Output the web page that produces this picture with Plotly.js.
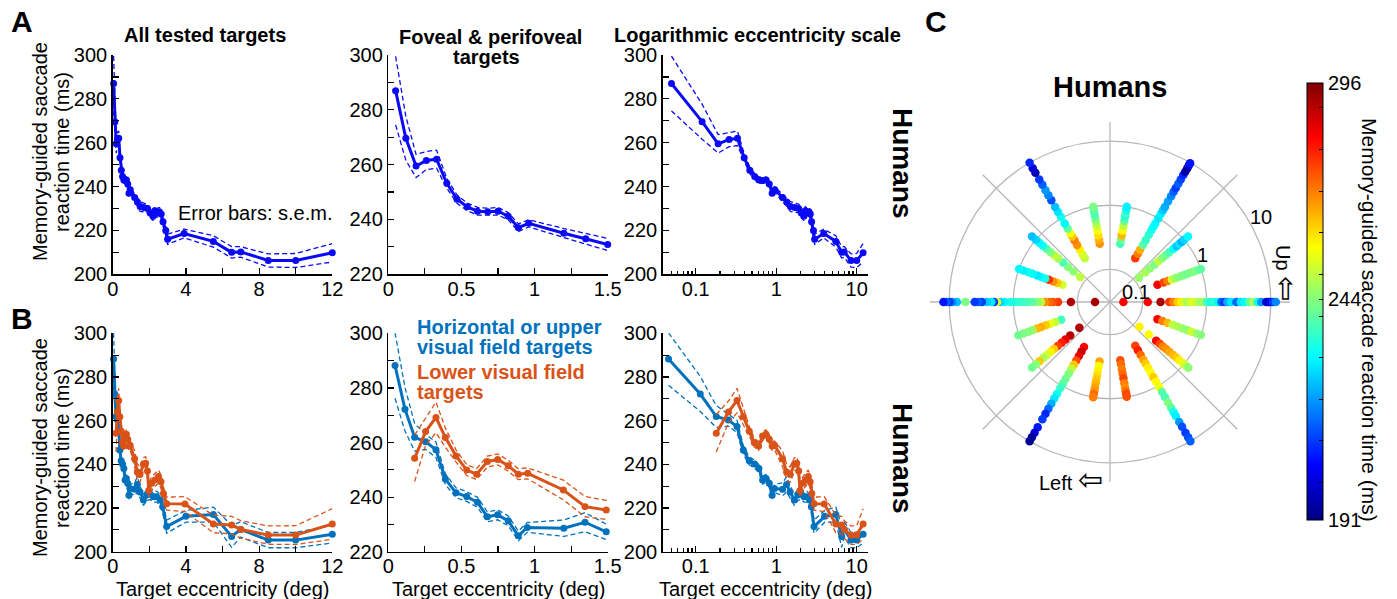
<!DOCTYPE html>
<html>
<head>
<meta charset="utf-8">
<script src="https://cdn.plot.ly/plotly-3.0.1.min.js"></script>
<style>html,body{margin:0;padding:0;background:#fff;}#chart{width:1397px;height:599px;}</style>
</head>
<body>
<div id="chart"></div>
<script>
// ---------- Panel A: all targets (mean RT, s.e.m.) ----------
const eccA = [0.05,0.12,0.19,0.26,0.33,0.4,0.47,0.54,0.61,0.68,0.75,0.82,0.89,0.96,1.2,1.35,1.5,1.7,1.9,2.05,2.2,2.3,2.4,2.55,2.65,2.75,2.9,3.0,3.9,5.5,6.5,7.0,8.5,10.0,12.0];
const rtA  = [287,269.6,259.5,261.5,262,253.2,247.4,244.6,243,242.8,243,241.2,237,238.6,235,233,230.9,230.5,230,228,226.5,229,228,228.5,227.5,224,220,216,218.6,215,210,210.2,206.3,206.3,209.8];
const semA = [12.5,8,4.2,3.3,3.3,1.8,1.5,1.4,1.4,1.3,1.4,1.3,1.4,1.3,1.7,2,2.2,2,2,2,2,2,2,2,2,2,2.2,2.3,2,2.6,2.6,2.4,3,3.2,4.2];

// ---------- Panel B: horizontal/upper vs lower visual field ----------
const eccUp = [0.046,0.114,0.18,0.255,0.326,0.39,0.463,0.536,0.61,0.677,0.748,0.82,0.889,0.95,1.2,1.345,1.49,1.68,1.86,2.04,2.22,2.4,2.6,2.73,2.95,4.0,5.5,6.5,7.0,8.5,10,12];
const rtUp  = [288.2,272.2,261.9,260.3,257.3,246.6,241.6,240.2,238.1,232.8,233.5,231.3,225.8,228.9,228.6,230.8,227.3,223.7,226,226.4,225.2,225.2,223.7,220.6,211.5,216.2,217,207,210.2,205.3,205.3,208];
const semUp = [12,8,5,2.8,2.8,2,1.8,1.8,1.8,1.8,1.8,1.8,1.8,1.8,3,3.5,2.8,2.5,2.5,2.5,2.5,2.5,2.5,2.8,3,2.7,3.4,5,3.5,3.5,3.5,4];

const eccLow = [0.18,0.255,0.326,0.39,0.463,0.536,0.604,0.677,0.748,0.82,0.889,0.953,1.197,1.345,1.49,1.68,1.8,1.9,1.97,2.13,2.31,2.5,2.64,2.77,2.95,3.95,5.5,6.5,7.0,8.5,10,12];
const rtLow  = [254.2,264,269.2,261.8,255.1,249.9,248.4,253,253.8,251.5,248.4,248.7,242.6,236.5,235.3,240,240.5,237,228,231.3,232.8,234.4,232,226.7,222,221.8,212.7,212.2,210.2,207.6,207.6,212.7];
const semLow = [8.5,5,5.6,3.5,2.2,2,2,2,2,2,2,2,3.6,3.7,3.5,3,3,3,3,3,3,3,3,3,3,3.4,4,4,4,4.2,4.3,7];

// ---------- Panel C: polar map (direction deg, eccentricity deg, RT ms) ----------
const rayAngles = [0,20,40,60,80,100,120,140,160,180,200,220,240,260,280,300,320,340];
const rayEcc = [
 [0.05,0.12,0.19,0.26,0.3,0.35,0.4,0.45,0.5,0.55,0.6,0.7,0.8,0.9,1.0,1.15,1.3,1.5,1.7,1.9,2.1,2.4,2.9,3.4,3.9,4.6,5.3,6.2,7.1,8.5,9.3,10,10.9,12],
 [0.19,0.24,0.28,0.33,0.38,0.45,0.52,0.6,0.7,0.8,0.9,1.0],
 [0.12,0.16,0.2,0.25,0.3,0.36,0.42,0.5,0.6,0.7,0.8,0.9,1.0,1.2],
 [0.19,0.23,0.27,0.33,0.4,0.5,0.6,0.7,0.8,1.0,1.2,1.4,1.6,2.0,2.5,3.0,3.5,4.2,5.0,6.0,6.9,8.0,9.0,9.8],
 [0.26,0.3,0.35,0.42,0.5,0.6,0.7,0.8,0.9,1.0],
 [0.26,0.3,0.35,0.42,0.5,0.6,0.7,0.8,0.9,1.0],
 [0.19,0.22,0.27,0.33,0.4,0.47,0.54,0.65,0.8,1.05,1.3,1.6,2.1,2.6,3.2,4.0,5.0,6.6,8.0,10],
 [0.125,0.17,0.22,0.28,0.35,0.42,0.5,0.6,0.72,0.85,1.0,1.2],
 [0.19,0.23,0.27,0.32,0.37,0.43,0.5,0.6,0.7,0.85,1.0],
 [0.053,0.126,0.2,0.24,0.27,0.32,0.37,0.42,0.5,0.6,0.7,0.8,0.94,1.1,1.36,1.6,1.8,2.0,2.2,2.6,3.1,3.5,4.0,5.6,7.6,9.0,9.9,11,12.3],
 [0.2,0.25,0.3,0.36,0.43,0.5,0.6,0.7,0.85,1.03],
 [0.13,0.2,0.25,0.3,0.36,0.43,0.5,0.6,0.7,0.85,1.0,1.2],
 [0.2,0.24,0.29,0.35,0.42,0.5,0.6,0.75,0.9,1.1,1.4,1.7,2.1,2.6,3.2,4.0,5.6,7.0,8.5,10],
 [0.27,0.32,0.38,0.45,0.52,0.6,0.7,0.8,0.9,1.0],
 [0.26,0.3,0.36,0.42,0.5,0.6,0.7,0.8,0.9,0.98],
 [0.19,0.23,0.28,0.34,0.4,0.48,0.58,0.7,0.85,1.05,1.3,1.6,2.0,2.5,3.0,3.5,4.5,5.5,7.0,8.5,10],
 [0.123,0.19,0.27,0.32,0.37,0.43,0.5,0.6,0.7,0.8,0.95,1.1,1.22],
 [0.19,0.23,0.28,0.34,0.41,0.5,0.6,0.7,0.85,1.0]
];
const rayRT = [
 [283,283,292,277,270,262,258,252,247,250,254,250,246,248,238,232,236,230,214,210,222,228,215,228,230,240,249,232,220,200,196,205,210,218],
 [283,276,270,252,246,244,243,242,243,244,242,240],
 [246,248,245,243,250,245,242,238,232,225,228,222,226,230],
 [277,270,265,240,236,235,233,231,230,228,229,225,222,221,218,214,210,214,211,208,196,194,200,206],
 [237,242,264,257,250,240,234,238,231,229],
 [268,265,260,256,250,245,240,238,240,243],
 [250,252,258,268,270,262,255,240,230,232,228,224,212,218,220,214,210,196,200,208],
 [250,245,244,238,248,250,244,240,232,230,226,224],
 [252,262,268,278,233,231,228,230,232,229,230],
 [292,291,277,275,272,268,250,245,240,238,237,236,235,233,230,226,255,210,228,225,210,214,210,243,224,218,210,214,206],
 [237,250,254,262,265,264,246,244,243,242],
 [291,290,285,280,276,262,258,252,248,262,245,242],
 [283,288,285,275,262,250,244,242,240,236,232,228,222,215,208,210,206,200,194,193],
 [266,256,258,260,262,264,266,268,272,270],
 [275,272,270,272,276,270,268,272,276,275],
 [276,280,272,266,262,258,256,262,257,255,240,238,244,240,232,229,220,212,210,212,214],
 [258,257,283,276,270,268,266,264,262,258,255,250,245],
 [283,270,264,250,248,246,245,252,246,244]
];
const ringVals = [0.1, 1, 10];
const ringText = ['0.1', '1', '10'];
const cbTickVals = [191,200,210,220,230,240,244,250,260,270,280,290,296];
const cbTickText = ['191','','','','','','244','','','','','','296'];

// ---------- helpers ----------
const W = 1397, H = 599;
const FONT = 'Liberation Sans, Arial, Helvetica, sans-serif';
const P = x => x / W;
const Q = y => 1 - y / H;
const BLUE_A = 'rgb(10,10,245)';
const BLUE_B = 'rgb(0,114,189)';
const ORANGE = 'rgb(217,83,25)';

const colPx = [[112.7,332.3],[388.3,607.7],[662.7,868]];
const rowPx = [[55,274.3],[333.3,551.7]];

const traces = [];
function addSeries(x, y, s, color, k) {
  const xa = 'x' + (k === 1 ? '' : k), ya = 'y' + (k === 1 ? '' : k);
  const up = y.map((v, i) => v + s[i]);
  const lo = y.map((v, i) => v - s[i]);
  [up, lo].forEach(b => traces.push({
    x: x, y: b, xaxis: xa, yaxis: ya, type: 'scatter', mode: 'lines',
    line: {color: color, width: 1.3, dash: '5px,3px'}, hoverinfo: 'skip'
  }));
  traces.push({
    x: x, y: y, xaxis: xa, yaxis: ya, type: 'scatter', mode: 'lines+markers',
    line: {color: color, width: 3}, marker: {color: color, size: 7}, cliponaxis: false
  });
}
for (let c = 0; c < 3; c++) {
  addSeries(eccA, rtA, semA, BLUE_A, 1 + c);
  addSeries(eccUp, rtUp, semUp, BLUE_B, 4 + c);
  addSeries(eccLow, rtLow, semLow, ORANGE, 4 + c);
}

// polar scatter
const pTheta = [], pR = [], pC = [];
rayAngles.forEach((a, i) => {
  rayEcc[i].forEach((e, j) => { pTheta.push(a); pR.push(e); pC.push(rayRT[i][j]); });
});
const jet = [[0,'rgb(0,0,128)'],[0.125,'rgb(0,0,255)'],[0.375,'rgb(0,255,255)'],[0.625,'rgb(255,255,0)'],[0.875,'rgb(255,0,0)'],[1,'rgb(128,0,0)']];
traces.push({
  type: 'scatterpolar', subplot: 'polar', r: pR, theta: pTheta, mode: 'markers',
  marker: {
    color: pC, colorscale: jet, cmin: 191, cmax: 296, size: 8.5, line: {width: 0},
    showscale: true,
    colorbar: {
      x: P(1307), xanchor: 'left', xpad: 0, y: Q(301.5), yanchor: 'middle', ypad: 0,
      len: 437 / H, lenmode: 'fraction', thickness: 16, thicknessmode: 'pixels',
      outlinewidth: 1, outlinecolor: '#000',
      tickmode: 'array', tickvals: cbTickVals, ticktext: cbTickText,
      ticks: 'inside', ticklen: 4, tickcolor: '#000',
      tickfont: {family: FONT, size: 20, color: '#000'}
    }
  }
});

// ---------- axes ----------
const layout = {
  width: W, height: H, margin: {l: 0, r: 0, t: 0, b: 0},
  paper_bgcolor: '#fff', plot_bgcolor: 'rgba(0,0,0,0)', showlegend: false,
  font: {family: FONT, size: 20, color: '#000'},
  annotations: [], shapes: []
};
const base = {
  showline: true, linecolor: '#000', linewidth: 1.5, ticks: 'inside', ticklen: 6, tickwidth: 1.2,
  tickcolor: '#000', showgrid: false, zeroline: false, mirror: false,
  tickfont: {family: FONT, size: 20, color: '#000'}
};
const logMinor = [0.04,0.05,0.06,0.07,0.08,0.09,0.2,0.3,0.4,0.5,0.6,0.7,0.8,0.9,2,3,4,5,6,7,8,9];
for (let r = 0; r < 2; r++) {
  for (let c = 0; c < 3; c++) {
    const k = r * 3 + c + 1;
    const sx = k === 1 ? '' : k;
    const xd = [P(colPx[c][0]), P(colPx[c][1])];
    const yd = [Q(rowPx[r][1]), Q(rowPx[r][0])];
    let xa;
    if (c === 0) xa = Object.assign({}, base, {range: [0, 12], tickvals: [0,4,8,12], minor: {tickvals: [2,6,10], ticks: 'inside', ticklen: 6, tickcolor: '#000'}});
    else if (c === 1) xa = Object.assign({}, base, {range: [0, 1.5], tickvals: [0,0.5,1,1.5], ticktext: ['0','0.5','1','1.5'], minor: {tickvals: [0.25,0.75,1.25], ticks: 'inside', ticklen: 6, tickcolor: '#000'}});
    else xa = Object.assign({}, base, {type: 'log', range: [-1.41, 1.14], tickvals: [0.1,1,10], ticktext: ['0.1','1','10'], minor: {tickvals: logMinor, ticks: 'inside', ticklen: 3.5, tickcolor: '#000'}});
    xa.domain = xd; xa.anchor = 'y' + sx; xa.ticklabelstandoff = -4;
    const ya = Object.assign({}, base, {range: [c === 1 ? 220 : 200, 300], tickvals: c === 1 ? [220,240,260,280,300] : [200,220,240,260,280,300],
      minor: {tickvals: c === 1 ? [230,250,270,290] : [210,230,250,270,290], ticks: 'inside', ticklen: 6, tickcolor: '#000'}});
    ya.domain = yd; ya.anchor = 'x' + sx;
    layout['xaxis' + sx] = xa;
    layout['yaxis' + sx] = ya;
  }
}

// polar (centre 1110,302 ; radius 180 px)
layout.polar = {
  domain: {x: [P(930), P(1290)], y: [Q(482), Q(122)]},
  bgcolor: 'rgba(0,0,0,0)',
  radialaxis: {
    type: 'log', range: [-1.51, 1.3], tickvals: ringVals, showticklabels: false,
    showline: false, ticks: '', angle: 0, showgrid: true, gridcolor: '#b8b8b8', gridwidth: 1.3,
    layer: 'below traces'
  },
  angularaxis: {
    rotation: 0, direction: 'counterclockwise', tickvals: [0,45,90,135,180,225,270,315],
    showticklabels: false, ticks: '', showline: false, showgrid: true, gridcolor: '#b8b8b8', gridwidth: 1.3,
    layer: 'below traces'
  }
};

// ---------- text ----------
function ann(text, x, y, opts) {
  layout.annotations.push(Object.assign({
    text: text, x: P(x), y: Q(y), xref: 'paper', yref: 'paper', showarrow: false,
    xanchor: 'center', yanchor: 'middle', font: {family: FONT, size: 20, color: '#000'}
  }, opts || {}));
}
const bold = (s) => '<b>' + s + '</b>';
ann(bold('A'), 22, 22, {font: {family: FONT, size: 30, color: '#000'}});
ann(bold('B'), 22, 318, {font: {family: FONT, size: 30, color: '#000'}});
ann(bold('C'), 936, 22, {font: {family: FONT, size: 30, color: '#000'}});
ann(bold('All tested targets'), 205, 35);
ann(bold('Foveal &amp; perifoveal'), 490, 37);
ann(bold('targets'), 487, 57);
ann(bold('Logarithmic eccentricity scale'), 757, 35);
[152, 448].forEach(yc => {
  ann('Memory-guided saccade', 40, yc, {textangle: -90});
  ann('reaction time (ms)', 62, yc, {textangle: -90});
});
[222, 498, 765].forEach(xc => ann('Target eccentricity (deg)', xc, 589));
ann('Error bars: s.e.m.', 255, 213);
ann(bold('Horizontal or upper'), 415, 327, {xanchor: 'left', font: {family: FONT, size: 20, color: BLUE_B}});
ann(bold('visual field targets'), 415, 347, {xanchor: 'left', font: {family: FONT, size: 20, color: BLUE_B}});
ann(bold('Lower visual field'), 415, 372, {xanchor: 'left', font: {family: FONT, size: 20, color: ORANGE}});
ann(bold('targets'), 415, 392, {xanchor: 'left', font: {family: FONT, size: 20, color: ORANGE}});
ann(bold('Humans'), 903, 163, {textangle: 90, font: {family: FONT, size: 28, color: '#000'}});
ann(bold('Humans'), 903, 458, {textangle: 90, font: {family: FONT, size: 28, color: '#000'}});
ann(bold('Humans'), 1110, 87, {font: {family: FONT, size: 29, color: '#000'}});
// ring labels of the polar plot
[[1136, 292], [1202, 255], [1261, 217]].forEach((p, i) => ann(ringText[i], p[0], p[1]));
ann('Left <span style="font-size:30px">\u21E6</span>', 1071, 479, {font: {family: 'Liberation Sans, DejaVu Sans, sans-serif', size: 20, color: '#000'}});
ann('Up <span style="font-size:30px">\u21E6</span>', 1287, 273, {textangle: 90, font: {family: 'Liberation Sans, DejaVu Sans, sans-serif', size: 20, color: '#000'}});
ann('Memory-guided saccade reaction time (ms)', 1370, 320, {textangle: 90, font: {family: FONT, size: 21, color: '#000'}});

Plotly.newPlot('chart', traces, layout, {staticPlot: true, displayModeBar: false});
</script>
</body>
</html>
